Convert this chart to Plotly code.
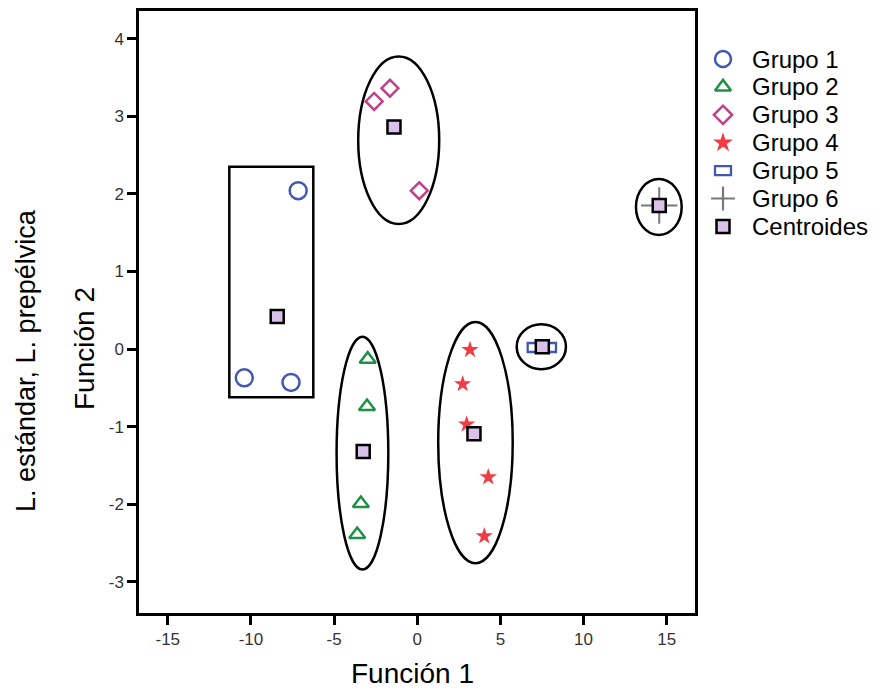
import plotly.graph_objects as go

# Discriminant function scores per group (Función 1, Función 2)
g1_x = [-7.16, -10.40, -7.59]
g1_y = [2.04, -0.37, -0.43]
g2_x = [-2.98, -3.02, -3.39, -3.61]
g2_y = [-0.13, -0.74, -1.99, -2.39]
g3_x = [-1.64, -2.59, 0.12]
g3_y = [3.36, 3.19, 2.04]
g4_x = [3.17, 2.73, 2.97, 4.27, 4.03]
g4_y = [-0.01, -0.45, -0.97, -1.65, -2.41]
g5_x = [7.15, 7.83]
g5_y = [0.02, 0.02]
g6_x = [14.55]
g6_y = [1.85]

# Group centroids
cen_x = [-8.42, -3.25, -1.40, 3.41, 7.52, 14.55]
cen_y = [0.42, -1.32, 2.86, -1.09, 0.03, 1.85]

# Enclosures drawn around the groups: [x0, x1, y0, y1]
box_g1 = [-11.30, -6.25, -0.62, 2.35]
ellipses = [
    [-4.85, -1.74, -2.84, 0.16],
    [-3.55, 1.32, 1.61, 3.77],
    [1.26, 5.74, -2.76, 0.35],
    [5.98, 8.94, -0.26, 0.32],
    [13.15, 15.90, 1.47, 2.19],
]

x_ticks = [-15, -10, -5, 0, 5, 10, 15]
y_ticks = [-3, -2, -1, 0, 1, 2, 3, 4]
x_tick_text = ["-15", "-10", "-5", "0", "5", "10", "15"]
y_tick_text = ["-3", "-2", "-1", "0", "1", "2", "3", "4"]
legend_labels = ["Grupo 1", "Grupo 2", "Grupo 3", "Grupo 4", "Grupo 5", "Grupo 6", "Centroides"]

BLUE = "#4256b4"
GREEN = "#1f9147"
MAGENTA = "#c2408a"
RED = "#f23b45"
GRAY = "#787878"
LAVENDER = "#d9c1ea"
FONT = "Liberation Sans, Arial, sans-serif"

W, H = 888, 694
# frame of the plotting area in pixels
FL, FR, FT, FB = 139, 695, 11, 613

fig = go.Figure()

fig.add_trace(go.Scatter(x=g1_x, y=g1_y, mode="markers",
                         marker=dict(symbol="circle-open", size=17, color=BLUE, line=dict(width=2.5))))
fig.add_trace(go.Scatter(x=g2_x, y=g2_y, mode="markers",
                         marker=dict(symbol="triangle-up-open", size=14, color=GREEN, line=dict(width=2.5))))
fig.add_trace(go.Scatter(x=g3_x, y=g3_y, mode="markers",
                         marker=dict(symbol="diamond-open", size=13, color=MAGENTA, line=dict(width=2.5))))
fig.add_trace(go.Scatter(x=g4_x, y=g4_y, mode="markers",
                         marker=dict(symbol="star", size=13, color=RED, line=dict(width=0))))
fig.add_trace(go.Scatter(x=g6_x, y=g6_y, mode="markers",
                         marker=dict(symbol="cross-thin-open", size=26, color=GRAY, line=dict(width=2, color=GRAY))))
fig.add_trace(go.Scatter(x=cen_x, y=cen_y, mode="markers",
                         marker=dict(symbol="square", size=13, color=LAVENDER, line=dict(width=2.5, color="black"))))

shapes = []
# Grupo 5 uses a flat rectangle symbol, drawn at each point with a fixed pixel size
for x, y in zip(g5_x, g5_y):
    shapes.append(dict(type="rect", xref="x", yref="y", xsizemode="pixel", ysizemode="pixel",
                       xanchor=x, yanchor=y, x0=-8.5, x1=8.5, y0=-4.5, y1=4.5,
                       line=dict(color=BLUE, width=2.3), fillcolor="rgba(0,0,0,0)", layer="below"))
shapes.append(dict(type="rect", xref="x", yref="y", x0=box_g1[0], x1=box_g1[1], y0=box_g1[2], y1=box_g1[3],
                   line=dict(color="black", width=2.5), layer="below"))
for e in ellipses:
    shapes.append(dict(type="circle", xref="x", yref="y", x0=e[0], x1=e[1], y0=e[2], y1=e[3],
                       line=dict(color="black", width=2.5), layer="below"))

# Legend drawn on an overlay axis measured in pixels
LEG_X0, LEG_X1, LEG_Y0, LEG_Y1 = 700, 888, 40, 245
ROW0, ROW_STEP = 59, 27.9
MARK_X, TEXT_X = 723, 751
rows = [ROW0 + ROW_STEP * i for i in range(len(legend_labels))]
leg_styles = [
    dict(symbol="circle-open", size=16, color=BLUE, line=dict(width=2.5)),
    dict(symbol="triangle-up-open", size=14, color=GREEN, line=dict(width=2.5)),
    dict(symbol="diamond-open", size=14, color=MAGENTA, line=dict(width=2.5)),
    dict(symbol="star", size=15, color=RED, line=dict(width=0)),
    None,
    dict(symbol="cross-thin-open", size=17, color=GRAY, line=dict(width=2.2, color=GRAY)),
    dict(symbol="square", size=13, color=LAVENDER, line=dict(width=2.5, color="black")),
]
for r, st in zip(rows, leg_styles):
    if st is None:
        shapes.append(dict(type="rect", xref="x2", yref="y2", xsizemode="pixel", ysizemode="pixel",
                           xanchor=MARK_X, yanchor=r, x0=-8, x1=8, y0=-4.5, y1=4.5,
                           line=dict(color=BLUE, width=2.3)))
    else:
        fig.add_trace(go.Scatter(x=[MARK_X], y=[r], mode="markers", marker=st,
                                 xaxis="x2", yaxis="y2"))

annotations = []
for r, lab in zip(rows, legend_labels):
    annotations.append(dict(x=TEXT_X, y=r, xref="x2", yref="y2", text=lab, showarrow=False,
                            xanchor="left", yanchor="middle", borderpad=0,
                            font=dict(size=24, color="black", family=FONT)))

# Axis titles
annotations.append(dict(x=412 / W, y=1 - 673 / H, xref="paper", yref="paper", text="Función 1",
                        showarrow=False, xanchor="center", yanchor="middle",
                        font=dict(size=28, color="black", family=FONT)))
annotations.append(dict(x=84 / W, y=1 - 349 / H, xref="paper", yref="paper", text="Función 2",
                        showarrow=False, textangle=-90, xanchor="center", yanchor="middle",
                        font=dict(size=28, color="black", family=FONT)))
annotations.append(dict(x=26 / W, y=1 - 361 / H, xref="paper", yref="paper",
                        text="L. estándar, L. prepélvica",
                        showarrow=False, textangle=-90, xanchor="center", yanchor="middle",
                        font=dict(size=27, color="black", family=FONT)))

axis_common = dict(showline=True, mirror=True, linecolor="black", linewidth=2.5,
                   ticks="outside", ticklen=9, tickwidth=2.5, tickcolor="black",
                   showgrid=False, zeroline=False,
                   tickfont=dict(size=17, color="#333333", family=FONT))

fig.update_layout(
    width=W, height=H,
    margin=dict(l=0, r=0, t=0, b=0),
    paper_bgcolor="white", plot_bgcolor="white",
    showlegend=False,
    shapes=shapes,
    annotations=annotations,
    xaxis=dict(domain=[FL / W, FR / W], range=[-16.73, 16.70], tickvals=x_ticks,
               ticktext=x_tick_text, **axis_common),
    yaxis=dict(domain=[1 - FB / H, 1 - FT / H], range=[-3.40, 4.355], tickvals=y_ticks,
               ticktext=y_tick_text, **axis_common),
    xaxis2=dict(domain=[LEG_X0 / W, LEG_X1 / W], range=[LEG_X0, LEG_X1], visible=False,
                anchor="y2", fixedrange=True),
    yaxis2=dict(domain=[1 - LEG_Y1 / H, 1 - LEG_Y0 / H], range=[LEG_Y1, LEG_Y0], visible=False,
                anchor="x2", fixedrange=True),
)

fig.write_html("out.html")
